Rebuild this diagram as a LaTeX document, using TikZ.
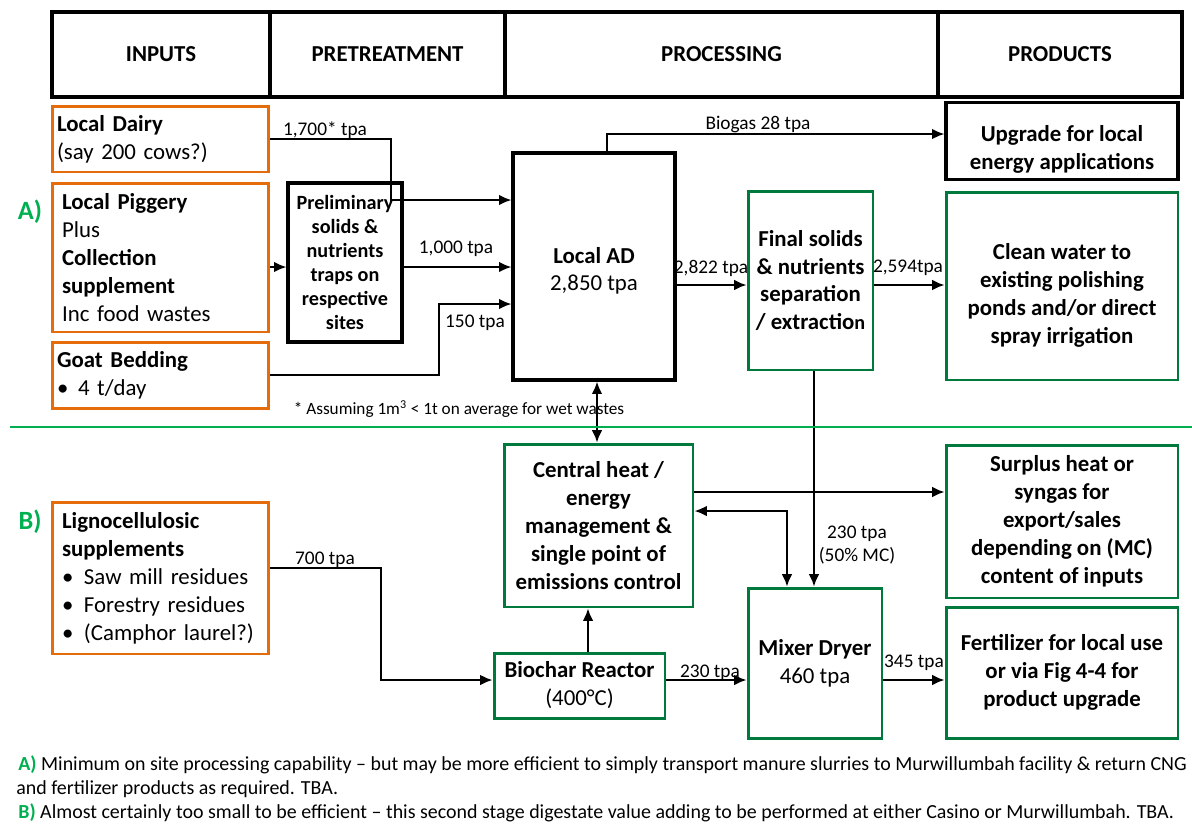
\documentclass[tikz,border=0pt]{standalone}
\usepackage{fontspec}
\setmainfont{Carlito}
\usetikzlibrary{arrows.meta}
\definecolor{inorange}{RGB}{228,108,10}
\definecolor{boxgreen}{RGB}{0,122,60}
\definecolor{grpgreen}{RGB}{0,176,80}

\begin{document}
\begin{tikzpicture}[x=0.02cm,y=-0.02cm,
  hdcell/.style={draw,line width=1.8pt,minimum height=1.7cm,font=\bfseries\fontsize{13}{16}\selectfont},
  inbox/.style={draw=inorange,line width=1.7pt,align=left,inner xsep=0.1cm,text width=4.14cm,minimum width=4.34cm,font=\fontsize{13}{15.9}\selectfont},
  blkbox/.style={draw,line width=1.8pt,align=center,font=\fontsize{13}{15.9}\selectfont},
  grnbox/.style={draw=boxgreen,line width=1.7pt,align=center,font=\fontsize{13}{15.9}\selectfont},
  flow/.style={-{Latex[length=7pt,width=6pt]},line width=1.1pt},
  dflow/.style={{Latex[length=7pt,width=6pt]}-{Latex[length=7pt,width=6pt]},line width=1.1pt},
  lbl/.style={inner sep=0pt,font=\fontsize{11}{13.6}\selectfont,align=center},
  grp/.style={text=grpgreen,font=\bfseries\fontsize{15}{18}\selectfont}]
\useasboundingbox (0,0) rectangle (1192,823);

\node[hdcell,minimum width=4.36cm] (hin) at (161,54.5) {INPUTS};
\node[hdcell,minimum width=4.70cm] (hpre) at (387.5,54.5) {PRETREATMENT};
\node[hdcell,minimum width=8.66cm] (hproc) at (721.5,54.5) {PROCESSING};
\node[hdcell,minimum width=4.88cm] (hprod) at (1060,54.5) {PRODUCTS};

\node[grp] (ga) at (30,212) {A)};
\node[grp] (gb) at (30,522) {B)};

\node[inbox,minimum height=1.32cm] (dairy) at (160.5,139) {\textbf{Local Dairy}\\(say 200 cows?)};
\node[inbox,minimum height=2.98cm,inner xsep=0.2cm,text width=3.94cm] (piggery) at (160.5,257.5)
  {\textbf{Local Piggery}\\Plus\\\textbf{Collection}\\\textbf{supplement}\\Inc food wastes};
\node[inbox,minimum height=1.32cm] (goat) at (160.5,375) {\textbf{Goat Bedding}\\\makebox[0.42cm][l]{\textbullet}4 t/day};
\node[inbox,minimum height=3.04cm,inner xsep=0.2cm,text width=3.94cm] (ligno) at (160.5,578)
  {\textbf{Lignocellulosic}\\\textbf{supplements}\\\makebox[0.44cm][l]{\textbullet}Saw mill residues\\\makebox[0.44cm][l]{\textbullet}Forestry residues\\\makebox[0.44cm][l]{\textbullet}(Camphor laurel?)};

\node[blkbox,minimum width=2.28cm,minimum height=3.18cm,font=\bfseries\fontsize{11.5}{13.6}\selectfont] (prelim) at (345,262.5)
  {Preliminary\\solids \&\\nutrients\\traps on\\respective\\sites};
\node[blkbox,minimum width=3.24cm,minimum height=4.54cm] (ad) at (594,266.5) {\rule{0pt}{14pt}\textbf{Local AD}\\2,850 tpa};
\node[blkbox,minimum width=4.64cm,minimum height=1.40cm,font=\bfseries\fontsize{13}{15.9}\selectfont] (upgrade) at (1062,141)
  {\rule{0pt}{19pt}Upgrade for local\\energy applications};

\node[grnbox,minimum width=2.50cm,minimum height=3.58cm,font=\bfseries\fontsize{13}{15.9}\selectfont] (final) at (810.5,280.5)
  {Final solids\\\& nutrients\\separation\\/ extractio{\fontsize{11.5}{13}\selectfont n}};
\node[grnbox,minimum width=4.64cm,minimum height=3.76cm,font=\bfseries\fontsize{13}{15.9}\selectfont] (clean) at (1062,286)
  {\rule{0pt}{20pt}Clean water to\\existing polishing\\ponds and/or direct\\spray irrigation};
\node[grnbox,minimum width=3.78cm,minimum height=3.26cm,font=\bfseries\fontsize{13}{15.9}\selectfont] (central) at (598.5,525.5)
  {Central heat /\\energy\\management \&\\single point of\\emissions control};
\node[grnbox,minimum width=3.42cm,minimum height=1.30cm] (biochar) at (579.5,685.5) {\textbf{Biochar Reactor}\\(400°C)};
\node[grnbox,minimum width=2.68cm,minimum height=3.00cm] (mixer) at (815,663) {\textbf{Mixer Dryer}\\460 tpa};
\node[grnbox,minimum width=4.64cm,minimum height=3.06cm,font=\bfseries\fontsize{13}{15.9}\selectfont] (surplus) at (1062,521.5)
  {Surplus heat or\\syngas for\\export/sales\\depending on (MC)\\content of inputs};
\node[grnbox,minimum width=4.64cm,minimum height=2.62cm,font=\bfseries\fontsize{13}{15.9}\selectfont] (fert) at (1062,672.5)
  {Fertilizer for local use\\or via Fig 4-4 for\\product upgrade};

\coordinate (c1) at (391,200);
\coordinate (c2) at (0,267);
\coordinate (c3) at (439,304);
\coordinate (c4) at (607,134);
\coordinate (c5) at (0,285);
\coordinate (c6) at (597,0);
\coordinate (c7) at (0,492);
\coordinate (c8) at (787,511);
\coordinate (c9) at (814,0);
\coordinate (c10) at (588,0);
\coordinate (c11) at (0,680);
\coordinate (c12) at (381,568);

\draw[flow] (dairy.east) -| (c1) -- (c1 -| ad.west);
\draw[flow] (c2 -| piggery.east) -- (c2 -| prelim.west);
\draw[flow] (c2 -| prelim.east) -- (c2 -| ad.west);
\draw[flow] (goat.east) -| (c3) -- (c3 -| ad.west);
\draw[flow] (c4 |- ad.north) |- (c4 -| upgrade.west);
\draw[flow] (c5 -| ad.east) -- (c5 -| final.west);
\draw[flow] (c5 -| final.east) -- (c5 -| clean.west);
\draw[dflow] (c6 |- ad.south) -- (c6 |- central.north);
\draw[flow] (c7 -| central.east) -- (c7 -| surplus.west);
\draw[dflow] (c8 -| central.east) -| (c8 |- mixer.north);
\draw[flow] (c9 |- final.south) -- (c9 |- mixer.north);
\draw[flow] (c10 |- biochar.north) -- (c10 |- central.south);
\draw[flow] (c11 -| biochar.east) -- (c11 -| mixer.west);
\draw[flow] (c11 -| mixer.east) -- (c11 -| fert.west);
\draw[flow] (c12 -| ligno.east) -- (c12) |- (c11 -| biochar.west);

\node[lbl] (t1) at (325,130) {1,700* tpa};
\node[lbl] (t2) at (456,249) {1,000 tpa};
\node[lbl] (t3) at (475,323) {150 tpa};
\node[lbl] (t4) at (758,125) {Biogas 28 tpa};
\node[lbl] (t5) at (711,268) {2,822 tpa};
\node[lbl] (t6) at (908,268) {2,594tpa};
\node[lbl] (t7) at (857,545) {230 tpa\\(50\% MC)};
\node[lbl] (t8) at (325,560) {700 tpa};
\node[lbl] (t9) at (710,673) {230 tpa};
\node[lbl] (t10) at (914,663) {345 tpa};
\node[lbl,font=\fontsize{9.8}{12}\selectfont] (fn) at (459,409) {* Assuming 1m\textsuperscript{3} < 1t on average for wet wastes};

\draw[grpgreen,line width=1.2pt] (10,427) -- (1192,427);

\node[lbl,anchor=base west,font=\fontsize{11.35}{13.6}\selectfont] (na) at (18,770) {\textcolor{grpgreen}{\textbf{A)}} Minimum on site processing capability – but may be more efficient to simply transport manure slurries to Murwillumbah facility \& return CNG};
\node[lbl,anchor=base west,font=\fontsize{11.35}{13.6}\selectfont] (na2) at (16,794) {and fertilizer products as required. TBA.};
\node[lbl,anchor=base west,font=\fontsize{11.35}{13.6}\selectfont] (nb) at (18,818) {\textcolor{grpgreen}{\textbf{B)}} Almost certainly too small to be efficient – this second stage digestate value adding to be performed at either Casino or Murwillumbah. TBA.};
\end{tikzpicture}
\end{document}
